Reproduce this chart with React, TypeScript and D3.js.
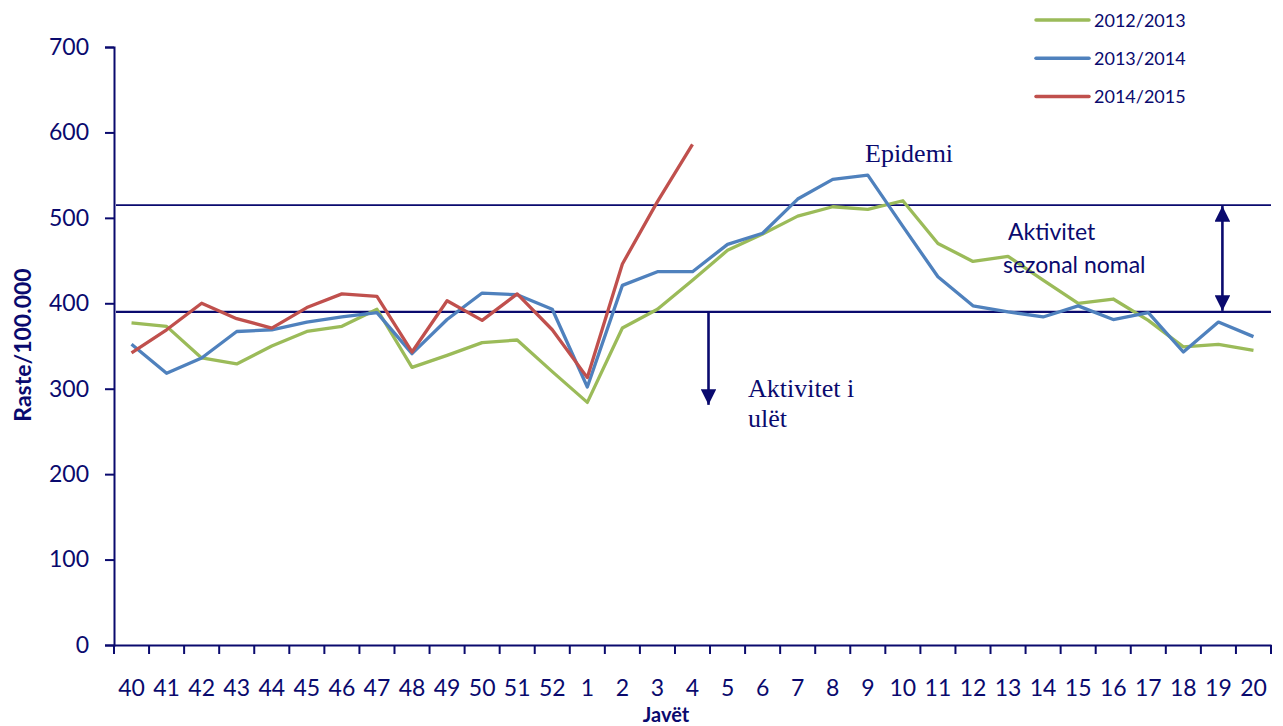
import { useEffect, useRef } from "react";
import * as d3 from "d3";

// weeks of the season
const weeks = [
  "40", "41", "42", "43", "44", "45", "46", "47", "48", "49", "50", "51", "52",
  "1", "2", "3", "4", "5", "6", "7", "8", "9", "10", "11", "12", "13", "14",
  "15", "16", "17", "18", "19", "20",
];

const season1213 = [
  377, 373, 336, 329, 350, 367, 373, 393, 325, 339, 354, 357, 320, 284, 371,
  393, 427, 462, 481, 502, 513, 510, 520, 470, 449, 455, 427, 400, 405, 380,
  349, 352, 345,
];
const season1314 = [
  352, 318, 336, 367, 369, 378, 384, 389, 341, 381, 412, 410, 393, 302, 421,
  437, 437, 469, 482, 522, 545, 550, 490, 431, 397, 390, 384, 397, 381, 389,
  343, 378, 361,
];
const season1415: (number | null)[] = [
  342, 369, 400, 382, 371, 395, 411, 408, 343, 403, 380, 411, 369, 313, 446,
  519, 586,
];

const seriesNames = ["2012/2013", "2013/2014", "2014/2015"];
const seriesColors = ["#9BBB59", "#4F81BD", "#C0504D"];
const yTicks = [0, 100, 200, 300, 400, 500, 600, 700];

// thresholds
const epidemicLevel = 515;
const baseLevel = 390;

const NAVY = "#0A0A6E";
const SANS = "Lato, 'Open Sans', sans-serif";
const SERIF = "'Liberation Serif', 'DejaVu Serif', serif";

export default function App() {
  const ref = useRef<SVGSVGElement>(null);

  useEffect(() => {
    if (!ref.current) return;
    const svg = d3.select(ref.current);
    svg.selectAll("*").remove();

    const W = 1283;
    const H = 726;
    const m = { top: 47, right: 12, bottom: 81, left: 114 };
    const w = W - m.left - m.right;
    const h = H - m.top - m.bottom;

    const x = d3.scaleBand<string>().domain(weeks).range([0, w]);
    const y = d3.scaleLinear().domain([0, 700]).range([h, 0]);
    const cx = (d: string) => (x(d) ?? 0) + x.bandwidth() / 2;

    const g = svg.append("g").attr("transform", `translate(${m.left},${m.top})`);

    // arrow head
    svg
      .append("defs")
      .append("marker")
      .attr("id", "arrow")
      .attr("viewBox", "0 0 10 10")
      .attr("refX", 10)
      .attr("refY", 5)
      .attr("markerWidth", 6)
      .attr("markerHeight", 6)
      .attr("markerUnits", "strokeWidth")
      .attr("orient", "auto-start-reverse")
      .append("path")
      .attr("d", "M0,0 L10,5 L0,10 Z")
      .attr("fill", NAVY);

    // threshold lines
    g.append("line")
      .attr("x1", 2)
      .attr("x2", w)
      .attr("y1", y(epidemicLevel))
      .attr("y2", y(epidemicLevel))
      .attr("stroke", NAVY)
      .attr("stroke-width", 1.8);
    g.append("line")
      .attr("x1", 2)
      .attr("x2", w)
      .attr("y1", y(baseLevel))
      .attr("y2", y(baseLevel))
      .attr("stroke", NAVY)
      .attr("stroke-width", 2.4);

    // series
    const line = d3
      .line<number | null>()
      .defined((d) => d != null)
      .x((_, i) => cx(weeks[i]))
      .y((d) => y(d as number));

    [season1213, season1314, season1415].forEach((s, i) => {
      g.append("path")
        .datum(s)
        .attr("fill", "none")
        .attr("stroke", seriesColors[i])
        .attr("stroke-width", 3.3)
        .attr("stroke-linejoin", "round")
        .attr("d", line);
    });

    // axes
    g.append("g")
      .attr("transform", `translate(0,${h})`)
      .call(d3.axisBottom(x).tickSize(0).tickPadding(35))
      .call((a) => {
        a.select(".domain").attr("stroke", NAVY).attr("stroke-width", 2);
        a.selectAll("text")
          .attr("font-family", SANS)
          .attr("font-size", 23)
          .attr("fill", NAVY);
      });
    // x ticks between categories
    const bounds = d3.range(weeks.length + 1).map((i) => i * x.bandwidth());
    g.append("g")
      .selectAll("line")
      .data(bounds)
      .join("line")
      .attr("x1", (d) => d)
      .attr("x2", (d) => d)
      .attr("y1", h)
      .attr("y2", h + 9)
      .attr("stroke", NAVY)
      .attr("stroke-width", 2);

    g.append("g")
      .call(d3.axisLeft(y).tickValues(yTicks).tickSize(9).tickPadding(16))
      .call((a) => {
        a.select(".domain").attr("stroke", NAVY).attr("stroke-width", 2);
        a.selectAll("line").attr("stroke", NAVY).attr("stroke-width", 2);
        a.selectAll("text")
          .attr("font-family", SANS)
          .attr("font-size", 23)
          .attr("fill", NAVY);
      });

    // axis titles
    svg
      .append("text")
      .attr("x", 666)
      .attr("y", 722)
      .attr("text-anchor", "middle")
      .attr("font-family", SANS)
      .attr("font-weight", "bold")
      .attr("font-size", 20)
      .attr("fill", NAVY)
      .text("Javët");
    svg
      .append("text")
      .attr("transform", "translate(31,345) rotate(-90)")
      .attr("text-anchor", "middle")
      .attr("font-family", SANS)
      .attr("font-weight", "bold")
      .attr("font-size", 23)
      .attr("fill", NAVY)
      .text("Raste/100.000");

    // down arrow under base line
    const ax = cx("4") + 16;
    g.append("line")
      .attr("x1", ax)
      .attr("x2", ax)
      .attr("y1", y(baseLevel))
      .attr("y2", y(baseLevel) + 93)
      .attr("stroke", NAVY)
      .attr("stroke-width", 2.6)
      .attr("marker-end", "url(#arrow)");

    // double arrow between thresholds
    const dx = cx("19") + 4;
    g.append("line")
      .attr("x1", dx)
      .attr("x2", dx)
      .attr("y1", y(epidemicLevel) + 1)
      .attr("y2", y(baseLevel) - 1)
      .attr("stroke", NAVY)
      .attr("stroke-width", 2.6)
      .attr("marker-start", "url(#arrow)")
      .attr("marker-end", "url(#arrow)");

    // annotations
    const note = (
      tx: number,
      ty: number,
      txt: string,
      family: string,
      size: number,
    ) =>
      svg
        .append("text")
        .attr("x", tx)
        .attr("y", ty)
        .attr("font-family", family)
        .attr("font-size", size)
        .attr("fill", NAVY)
        .text(txt);

    note(865, 162, "Epidemi", SERIF, 26);
    note(748, 397, "Aktivitet i", SERIF, 26);
    note(748, 427, "ulët", SERIF, 26);
    note(1008, 240, "Aktivitet", SANS, 23);
    note(1003, 273, "sezonal nomal", SANS, 23);

    // legend
    const leg = svg.append("g").attr("transform", "translate(1036,20)");
    seriesNames.forEach((name, i) => {
      leg
        .append("line")
        .attr("x1", 0)
        .attr("x2", 53)
        .attr("y1", i * 38.3)
        .attr("y2", i * 38.3)
        .attr("stroke", seriesColors[i])
        .attr("stroke-width", 3.5)
        .attr("stroke-linecap", "round");
      leg
        .append("text")
        .attr("x", 58)
        .attr("y", i * 38.3 + 6.5)
        .attr("font-family", SANS)
        .attr("font-size", 18)
        .attr("fill", NAVY)
        .text(name);
    });
  }, []);

  return (
    <div style={{ position: "absolute", left: 0, top: 0 }}>
      <svg
        ref={ref}
        width={1283}
        height={726}
        viewBox="0 0 1283 726"
        style={{ display: "block", background: "#fff" }}
      />
    </div>
  );
}
